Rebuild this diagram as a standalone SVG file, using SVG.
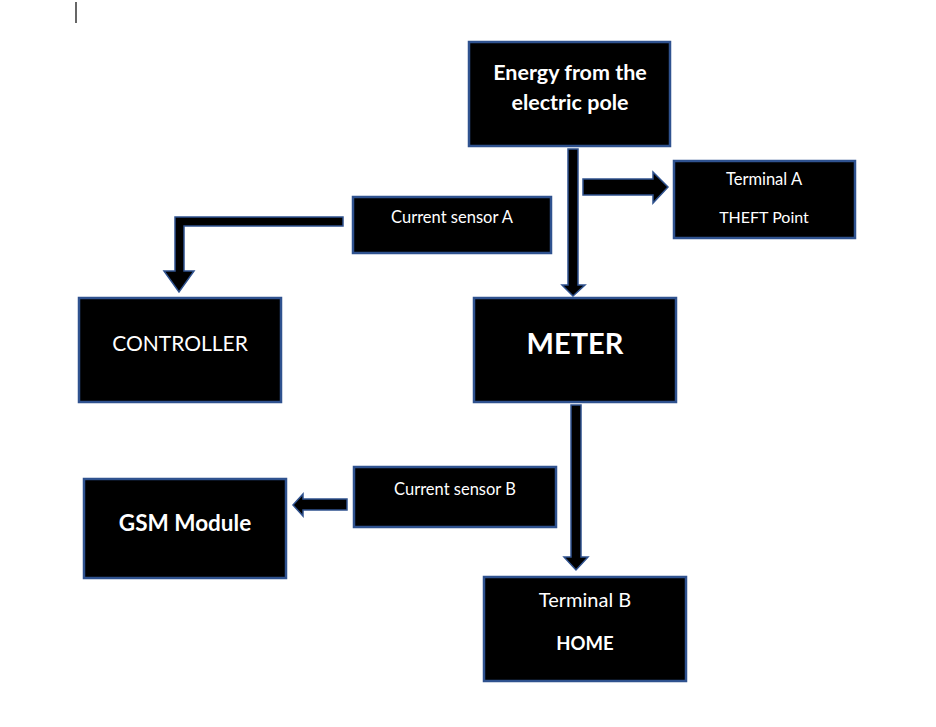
<svg xmlns="http://www.w3.org/2000/svg" width="936" height="727" viewBox="0 0 936 727">
<style>
.box{fill:#000;stroke:#2F528F;stroke-width:2.5}
.arr{fill:#000;stroke:#2F528F;stroke-width:1.5;stroke-linejoin:miter}
text{font-family:Lato,"Open Sans","Liberation Sans",sans-serif;fill:#fff;text-anchor:middle}
.b{font-weight:bold}
</style>
<rect width="936" height="727" fill="#fff"/>
<line x1="76" y1="2" x2="76" y2="23" stroke="#000" stroke-width="1.2"/>
<g id="connectors">
<polygon class="arr" points="568,149 578,149 578,285 585,285 573,296 562,285 568,285"/>
<polygon class="arr" points="583,179 653,179 653,172 668,187 653,203 653,195 583,195"/>
<polygon class="arr" points="343,217 175,217 175,271 164,271 179,292 194,271 184,271 184,226 343,226"/>
<polygon class="arr" points="571,405 581,405 581,557 588,557 576,570 564,557 571,557"/>
<polygon class="arr" points="347,499 303,499 303,494 293,505 303,516 303,510 347,510"/>
</g>
<g id="energy">
<rect class="box" x="469" y="42" width="201" height="104"/>
<text class="b" x="570" y="80" font-size="21.5">Energy from the</text>
<text class="b" x="570" y="110" font-size="21.5">electric pole</text>
</g>
<g id="terminalA">
<rect class="box" x="674" y="161" width="181" height="77"/>
<text x="764" y="185" font-size="16.5">Terminal A</text>
<text x="764" y="223" font-size="16">THEFT Point</text>
</g>
<g id="sensorA">
<rect class="box" x="353" y="197" width="198" height="56"/>
<text x="452" y="223" font-size="16.5">Current sensor A</text>
</g>
<g id="controller">
<rect class="box" x="79" y="298" width="202" height="104"/>
<text x="180" y="351" font-size="21">CONTROLLER</text>
</g>
<g id="meter">
<rect class="box" x="474" y="298" width="202" height="104"/>
<text class="b" x="575" y="354" font-size="29">METER</text>
</g>
<g id="sensorB">
<rect class="box" x="354" y="467" width="202" height="60"/>
<text x="455" y="495" font-size="16.5">Current sensor B</text>
</g>
<g id="gsm">
<rect class="box" x="84" y="479" width="202" height="99"/>
<text class="b" x="185" y="531" font-size="22.5">GSM Module</text>
</g>
<g id="terminalB">
<rect class="box" x="484" y="577" width="202" height="104"/>
<text x="585" y="607" font-size="20">Terminal B</text>
<text class="b" x="585" y="650" font-size="18.5">HOME</text>
</g>
</svg>
